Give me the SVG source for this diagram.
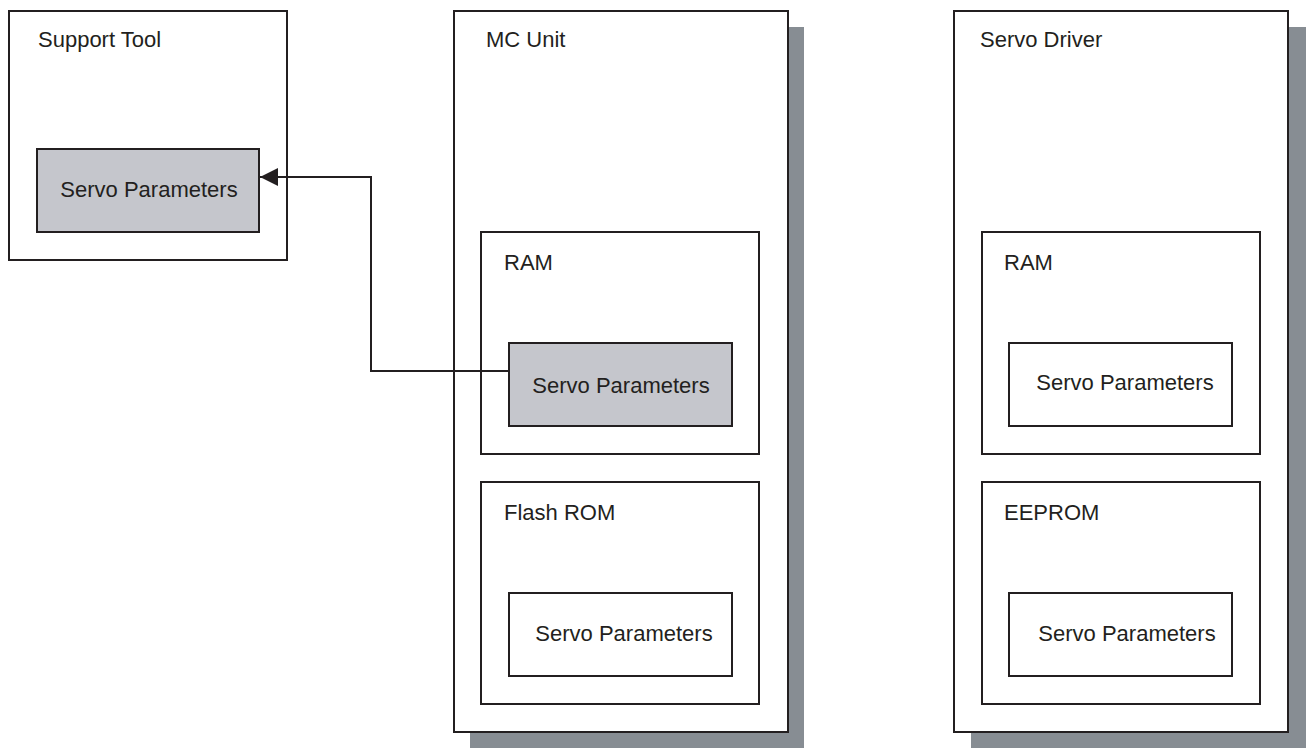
<svg xmlns="http://www.w3.org/2000/svg" width="1306" height="751" viewBox="0 0 1306 751">
  <style>
    .box { fill: #ffffff; stroke: #231f20; stroke-width: 2; }
    .gray { fill: #c5c6cc; stroke: #231f20; stroke-width: 2; }
    .shadow { fill: #878d93; stroke: none; }
    .lbl { font-family: "Liberation Sans", Arial, sans-serif; font-size: 22px; fill: #231f20; }
    .mid { text-anchor: middle; }
    .conn { fill: none; stroke: #231f20; stroke-width: 2; }
  </style>
  <defs>
    <marker id="arrow" markerUnits="userSpaceOnUse" markerWidth="20" markerHeight="20" refX="18" refY="9" orient="auto">
      <path d="M0,0 L18,9 L0,18 Z" fill="#231f20"/>
    </marker>
  </defs>
  <rect width="1306" height="751" fill="#ffffff"/>

  <g id="support-tool">
    <rect class="box" x="9" y="11" width="278" height="249"/>
    <text class="lbl" x="38" y="47">Support Tool</text>
    <g id="st-servo-params">
      <rect class="gray" x="37" y="149" width="222" height="83"/>
      <text class="lbl mid" x="149" y="197">Servo Parameters</text>
    </g>
  </g>

  <g id="mc-unit">
    <rect class="shadow" x="470" y="27" width="334" height="721"/>
    <rect class="box" x="454" y="11" width="334" height="721"/>
    <text class="lbl" x="486" y="47">MC Unit</text>
    <g id="mc-ram">
      <rect class="box" x="481" y="232" width="278" height="222"/>
      <text class="lbl" x="504" y="270">RAM</text>
      <g id="mc-ram-servo-params">
        <rect class="gray" x="509" y="343" width="223" height="83"/>
        <text class="lbl mid" x="621" y="393">Servo Parameters</text>
      </g>
    </g>
    <g id="mc-flash">
      <rect class="box" x="481" y="482" width="278" height="222"/>
      <text class="lbl" x="504" y="520">Flash ROM</text>
      <g id="mc-flash-servo-params">
        <rect class="box" x="509" y="593" width="223" height="83"/>
        <text class="lbl mid" x="624" y="641">Servo Parameters</text>
      </g>
    </g>
  </g>

  <g id="servo-driver">
    <rect class="shadow" x="971" y="27" width="335" height="721"/>
    <rect class="box" x="954" y="11" width="334" height="721"/>
    <text class="lbl" x="980" y="47">Servo Driver</text>
    <g id="sd-ram">
      <rect class="box" x="982" y="232" width="278" height="222"/>
      <text class="lbl" x="1004" y="270">RAM</text>
      <g id="sd-ram-servo-params">
        <rect class="box" x="1009" y="343" width="223" height="83"/>
        <text class="lbl mid" x="1125" y="390">Servo Parameters</text>
      </g>
    </g>
    <g id="sd-eeprom">
      <rect class="box" x="982" y="482" width="278" height="222"/>
      <text class="lbl" x="1004" y="520">EEPROM</text>
      <g id="sd-eeprom-servo-params">
        <rect class="box" x="1009" y="593" width="223" height="83"/>
        <text class="lbl mid" x="1127" y="641">Servo Parameters</text>
      </g>
    </g>
  </g>

  <g id="connectors">
    <path class="conn" d="M509,371 H371 V177 H260" marker-end="url(#arrow)"/>
  </g>
</svg>
